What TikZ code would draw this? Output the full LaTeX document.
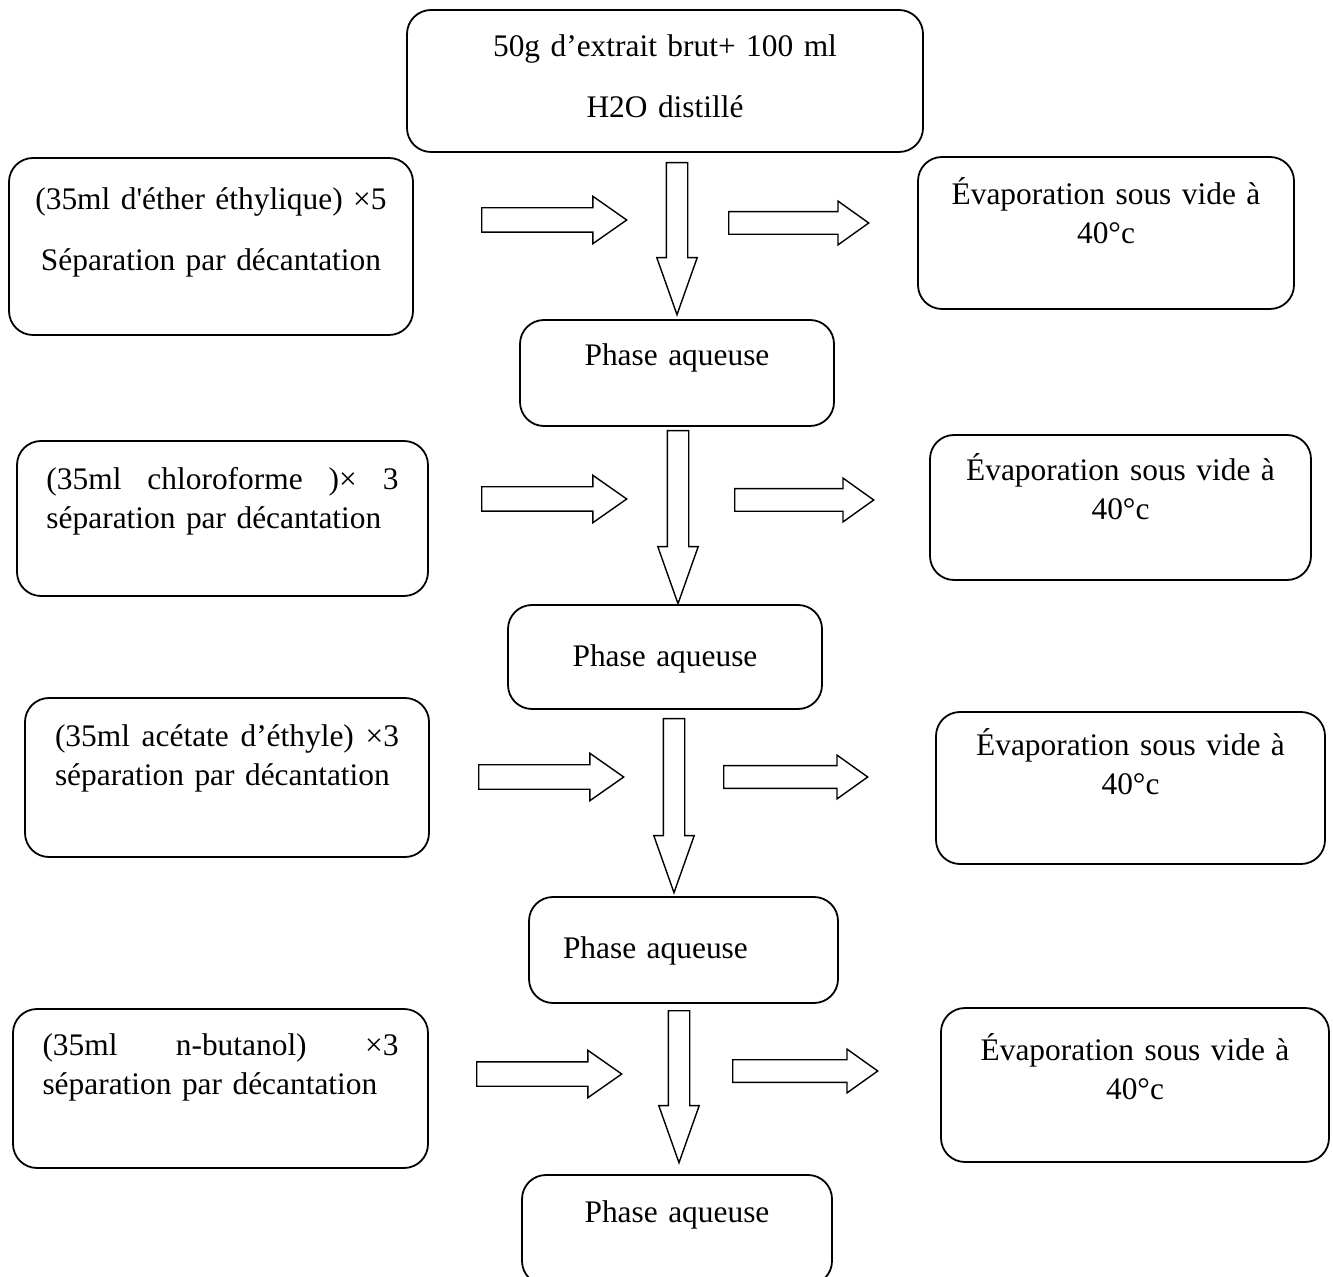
\documentclass[tikz,border=0pt]{standalone}
\usepackage{fontspec}
\setmainfont{Liberation Serif}
\usepackage{tikz}
\usetikzlibrary{shapes.arrows}

\begin{document}
\begin{tikzpicture}[
      x=0.5pt, y=-0.5pt,
      box/.style={draw, line width=0.9pt, rounded corners=12pt, inner sep=0pt, align=center, font=\fontsize{15.7pt}{19.5pt}\selectfont},
      wide/.style={font=\fontsize{15.7pt}{30.5pt}\selectfont},
      fat/.style={single arrow, draw, line width=0.7pt, anchor=tail},
      inarrow/.style={fat, inner xsep=0pt, inner ysep=5.75pt, single arrow head extend=5.75pt, single arrow tip angle=70, minimum height=72.5pt},
      outarrow/.style={fat, inner xsep=0pt, inner ysep=5.3pt, single arrow head extend=5.3pt, single arrow tip angle=71},
      downarrow/.style={fat, shape border rotate=270, inner xsep=5pt, inner ysep=0pt, single arrow head extend=4.75pt, single arrow tip angle=39}
    ]
      \clip (0,0) rectangle (1333,1277);

      % boites centrales
      \node[box, wide, minimum width=258pt, text width=258pt, text height=23.5pt, text depth=47.5pt] (extrait) at (665,81) {50g d’extrait brut+ 100 ml\\H2O distillé};
      \node[box, minimum width=157pt, text width=157pt, text height=23pt, text depth=30pt] (aq1) at (677,373) {Phase aqueuse};
      \node[box, minimum width=157pt, text width=157pt, text height=31pt, text depth=21pt] (aq2) at (665,657) {Phase aqueuse};
      \node[box, align=left, minimum width=154.5pt, text width=120.5pt, text height=30.5pt, text depth=22.5pt] (aq3) at (683.5,950) {Phase aqueuse};
      \node[box, minimum width=155pt, text width=155pt, text height=23.5pt, text depth=31.5pt] (aq4) at (677,1230) {Phase aqueuse};

      % solvants
      \node[box, wide, minimum width=202pt, text width=190pt, text height=26pt, text depth=62.5pt] (ether) at (211,246.5) {(35ml d\textquotesingle éther éthylique) ×5\\Séparation par décantation};
      \node[box, align=left, minimum width=205.5pt, text width=176pt, text height=24.5pt, text depth=53pt] (chloro) at (222.5,518.5) {(35ml\hfill chloroforme\hfill )×\hfill 3\\séparation par décantation};
      \node[box, align=left, minimum width=202pt, text width=172pt, text height=24.5pt, text depth=55pt] (acetate) at (227,777.5) {(35ml\hfill acétate\hfill d’éthyle)\hfill ×3\\séparation par décantation};
      \node[box, align=left, minimum width=207.5pt, text width=178pt, text height=23pt, text depth=56.5pt] (butanol) at (220.5,1088.5) {(35ml\hfill n-butanol)\hfill ×3\\séparation par décantation};

      % evaporation
      \node[box, minimum width=188pt, text width=188pt, text height=24pt, text depth=52pt] (evap1) at (1106,233) {Évaporation sous vide à\\40°c};
      \node[box, minimum width=190.5pt, text width=190.5pt, text height=23pt, text depth=49.5pt] (evap2) at (1120.5,507.5) {Évaporation sous vide à\\40°c};
      \node[box, minimum width=194.5pt, text width=194.5pt, text height=21.5pt, text depth=54.5pt] (evap3) at (1130.5,788) {Évaporation sous vide à\\40°c};
      \node[box, minimum width=194pt, text width=194pt, text height=26pt, text depth=51pt] (evap4) at (1135,1085) {Évaporation sous vide à\\40°c};

      % fleches
      \node[inarrow] (in1) at (481,220) {};
      \node[inarrow] (in2) at (481,499) {};
      \node[inarrow] (in3) at (478,777) {};
      \node[inarrow] (in4) at (476,1074) {};

      \node[downarrow, minimum height=76pt] (down1) at (677,162) {};
      \node[downarrow, minimum height=86.5pt] (down2) at (678,430) {};
      \node[downarrow, minimum height=87pt] (down3) at (674,718) {};
      \node[downarrow, minimum height=76pt] (down4) at (679,1010) {};

      \node[outarrow, minimum height=70pt] (out1) at (728,223) {};
      \node[outarrow, minimum height=69.5pt] (out2) at (734,500) {};
      \node[outarrow, minimum height=72pt] (out3) at (723,777) {};
      \node[outarrow, minimum height=72.5pt] (out4) at (732,1071) {};
    \end{tikzpicture}
\end{document}
